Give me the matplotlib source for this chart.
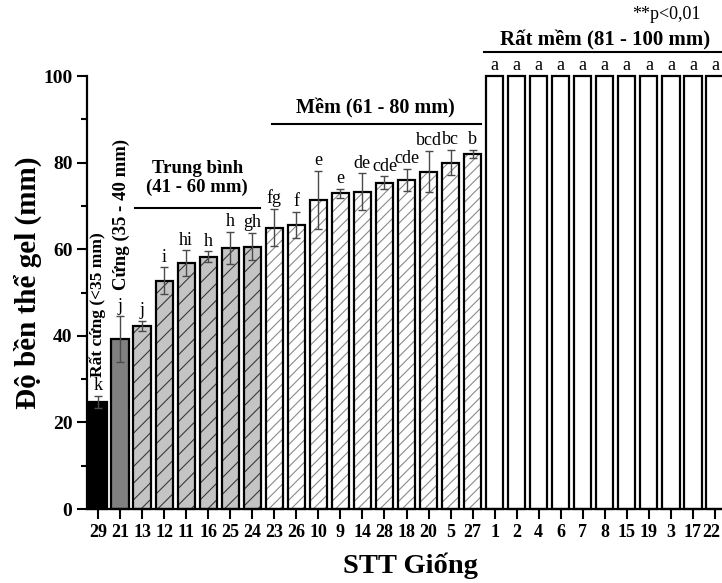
import numpy as np
import matplotlib
matplotlib.use("Agg")
import matplotlib.pyplot as plt

plt.rcParams['font.family'] = ['Liberation Serif', 'DejaVu Serif']
plt.rcParams['hatch.linewidth'] = 0.8

# varieties in plotted order
varieties = ["29", "21", "13", "12", "11", "16", "25", "24",
             "23", "26", "10", "9", "14", "28", "18", "20", "5", "27",
             "1", "2", "4", "6", "7", "8", "15", "19", "3", "17", "22"]
gel = [24.7, 39.2, 42.3, 52.7, 56.7, 58.3, 60.3, 60.6,
       65.0, 65.6, 71.4, 72.9, 73.3, 75.4, 76.0, 77.9, 80.0, 82.0,
       100, 100, 100, 100, 100, 100, 100, 100, 100, 100, 100]
err = [1.4, 5.3, 1.1, 3.1, 3.0, 1.2, 3.7, 3.2,
       4.3, 3.1, 6.7, 1.0, 4.2, 1.4, 2.5, 4.8, 2.9, 0.9,
       0, 0, 0, 0, 0, 0, 0, 0, 0, 0, 0]
letters = ["k", "j", "j", "i", "hi", "h", "h", "gh",
           "fg", "f", "e", "e", "de", "cde", "cde", "bcd", "bc", "b",
           "a", "a", "a", "a", "a", "a", "a", "a", "a", "a", "a"]
# group of each bar: 0 very hard, 1 hard, 2 medium, 3 soft, 4 very soft
group = [0, 1, 2, 2, 2, 2, 2, 2,
         3, 3, 3, 3, 3, 3, 3, 3, 3, 3,
         4, 4, 4, 4, 4, 4, 4, 4, 4, 4, 4]

face = {0: "black", 1: "#808080", 2: "#c4c4c4", 3: "white", 4: "white"}
hatch = {0: None, 1: None, 2: "//", 3: "///", 4: None}
hatch_col = {0: "black", 1: "black", 2: "#3a3a3a", 3: "#8a8a8a", 4: "black"}

fig = plt.figure(figsize=(7.22, 5.83), dpi=100)
ax = fig.add_axes([87 / 722, 1 - 509 / 583, 639 / 722, (509 - 76) / 583])

x = np.arange(len(varieties))
w = 0.78
for i in x:
    g = group[i]
    # fill + hatch first, then the black outline on top
    ax.bar(i, gel[i], width=w, color=face[g], hatch=hatch[g],
           edgecolor=hatch_col[g], linewidth=0, zorder=2, clip_on=False)
    ax.bar(i, gel[i], width=w, fill=False, edgecolor="black",
           linewidth=1.6, zorder=3, clip_on=False)
    if err[i] > 0:
        ax.errorbar(i, gel[i], yerr=err[i], fmt="none", ecolor="#4a4a4a",
                    elinewidth=1, capsize=3, capthick=1, zorder=4)
    ax.text(i, gel[i] + err[i] + 0.4, letters[i], ha="center", va="bottom",
            fontsize=13)

ax.set_xlim(-0.5, len(varieties) - 0.5)
ax.set_ylim(0, 100)
ax.set_xticks(x)
# last label sits right at the figure edge, so it is drawn by hand a bit left
ax.set_xticklabels(varieties[:-1] + [""], fontsize=13, fontweight="bold")
ax.annotate(varieties[-1], xy=(x[-1], 0), xycoords=("data", "axes fraction"),
            xytext=(-2.5, -11), textcoords="offset points", ha="center",
            va="top", fontsize=13, fontweight="bold", annotation_clip=False)
ax.set_yticks([0, 20, 40, 60, 80, 100])
ax.set_yticks([10, 30, 50, 70, 90], minor=True)
for lab in ax.get_yticklabels():
    lab.set_fontsize(14)
    lab.set_fontweight("bold")
ax.tick_params(axis="both", which="major", direction="out", length=7, width=1.5)
ax.tick_params(axis="y", which="minor", direction="out", length=4, width=1.5)
ax.tick_params(axis="x", pad=4)
for s in ["top", "right"]:
    ax.spines[s].set_visible(False)
for s in ["left", "bottom"]:
    ax.spines[s].set_linewidth(1.6)

# group headers
ax.plot([1.69, 7.36], [69.5, 69.5], color="black", lw=1.5, clip_on=False)
ax.text(4.5, 76.5, "Trung bình\n(41 - 60 mm)", ha="center", va="center",
        fontsize=13.5, fontweight="bold", linespacing=1.1)
ax.plot([7.9, 17.4], [88.8, 88.8], color="black", lw=1.5, clip_on=False)
ax.text(12.6, 92.6, "Mềm (61 - 80 mm)", ha="center", va="center",
        fontsize=14.5, fontweight="bold")
ax.plot([17.5, 28.6], [105.6, 105.6], color="black", lw=1.5, clip_on=False)
ax.text(23.0, 108.2, "Rất mềm (81 - 100 mm)", ha="center", va="center",
        fontsize=15, fontweight="bold")
ax.text(25.8, 114.2, "**p<0,01", ha="center", va="center", fontsize=13)
ax.text(0, 47.1, "Rất cứng (<35 mm)", rotation=90, ha="center", va="center",
        fontsize=12.5, fontweight="bold")
ax.text(1.05, 68.0, "Cứng (35 - 40 mm)", rotation=90, ha="center", va="center",
        fontsize=13.5, fontweight="bold")

fig.text(28 / 722, 0.515, "Độ bền thể gel (mm)", rotation=90, ha="center",
         va="center", fontsize=21, fontweight="bold")
fig.text(0.568, 0.030, "STT Giống", ha="center", va="center",
         fontsize=20.5, fontweight="bold")

fig.savefig("out.png", dpi=100)
